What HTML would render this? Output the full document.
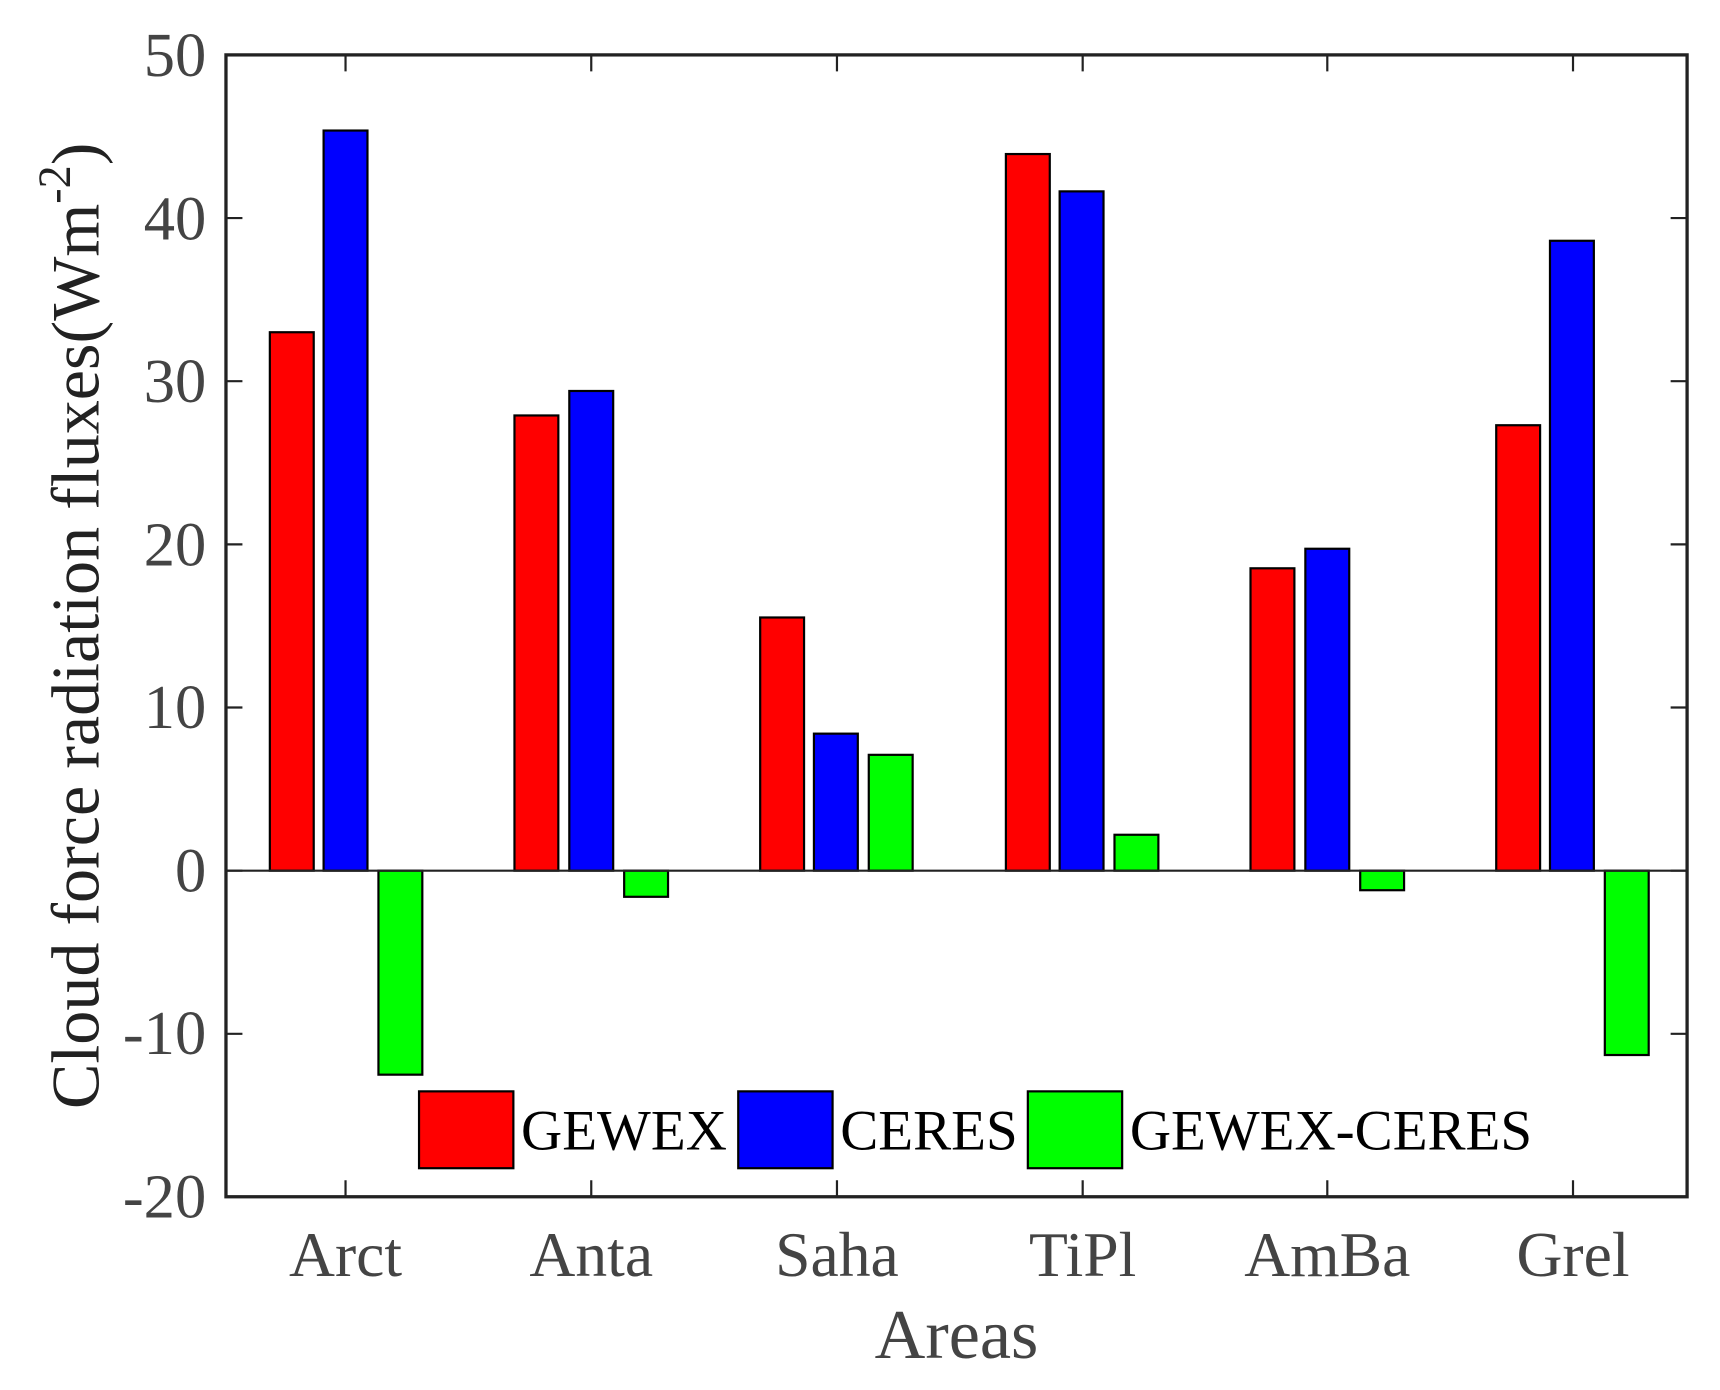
<!DOCTYPE html>
<html><head><style>html,body{margin:0;padding:0;background:#fff}svg{display:block}</style></head>
<body>
<svg width="1720" height="1390" viewBox="0 0 1568 1266" preserveAspectRatio="none" xmlns="http://www.w3.org/2000/svg" font-family="Liberation Serif, serif">
<rect width="1568" height="1266" fill="#fff"/>
<g stroke="#000" stroke-width="2">
<rect x="246" y="302.6" width="40" height="490.4" fill="#f00"/>
<rect x="295" y="118.9" width="40" height="674.1" fill="#00f"/>
<rect x="345" y="793" width="40" height="185.8" fill="#0f0"/>
<rect x="469" y="378.4" width="40" height="414.6" fill="#f00"/>
<rect x="519" y="356.1" width="40" height="436.9" fill="#00f"/>
<rect x="569" y="793" width="40" height="23.8" fill="#0f0"/>
<rect x="693" y="562.4" width="40" height="230.6" fill="#f00"/>
<rect x="742" y="668.2" width="40" height="124.8" fill="#00f"/>
<rect x="792" y="687.5" width="40" height="105.5" fill="#0f0"/>
<rect x="917" y="140.3" width="40" height="652.7" fill="#f00"/>
<rect x="966" y="174.3" width="40" height="618.7" fill="#00f"/>
<rect x="1016" y="760.3" width="40" height="32.7" fill="#0f0"/>
<rect x="1140" y="517.6" width="40" height="275.4" fill="#f00"/>
<rect x="1190" y="499.8" width="40" height="293.2" fill="#00f"/>
<rect x="1240" y="793" width="40" height="17.8" fill="#0f0"/>
<rect x="1364" y="387.3" width="40" height="405.7" fill="#f00"/>
<rect x="1413" y="219.3" width="40" height="573.7" fill="#00f"/>
<rect x="1463" y="793" width="40" height="167.9" fill="#0f0"/>
</g>
<line x1="206" y1="793" x2="1538" y2="793" stroke="#222" stroke-width="2"/>
<rect x="206" y="50" width="1332" height="1040" fill="none" stroke="#222" stroke-width="3"/>
<g stroke="#222" stroke-width="2">
<path d="M206 50h15M206 198.6h15M206 347.2h15M206 495.8h15M206 644.4h15M206 793h15M206 941.6h15M206 1090h15"/>
<path d="M1538 50h-15M1538 198.6h-15M1538 347.2h-15M1538 495.8h-15M1538 644.4h-15M1538 793h-15M1538 941.6h-15"/>
<path d="M315 50v15M539 50v15M763 50v15M987 50v15M1210 50v15M1434 50v15"/>
<path d="M315 1090v-15M539 1090v-15M763 1090v-15M987 1090v-15M1210 1090v-15M1434 1090v-15"/>
</g>
<g fill="#444" font-size="57" text-anchor="end">
<text x="188" y="69">50</text><text x="188" y="218">40</text><text x="188" y="366">30</text>
<text x="188" y="515">20</text><text x="188" y="663">10</text><text x="188" y="812">0</text>
<text x="188" y="960">-10</text><text x="188" y="1109">-20</text>
</g>
<g fill="#444" font-size="58" text-anchor="middle">
<text x="315" y="1162">Arct</text><text x="539" y="1162">Anta</text><text x="763" y="1162">Saha</text>
<text x="987" y="1162">TiPl</text><text x="1210" y="1162">AmBa</text><text x="1434" y="1162">Grel</text>
<text x="872" y="1237" font-size="64">Areas</text>
</g>
<text transform="translate(90,570) rotate(-90)" text-anchor="middle" font-size="62" fill="#222">Cloud force radiation fluxes(Wm<tspan dy="-26" font-size="42">-2</tspan><tspan dy="26">)</tspan></text>
<g stroke="#000" stroke-width="2">
<rect x="382" y="994" width="86" height="70" fill="#f00"/>
<rect x="673" y="994" width="86" height="70" fill="#00f"/>
<rect x="937" y="994" width="86" height="70" fill="#0f0"/>
</g>
<g font-size="52" fill="#000">
<text x="475" y="1047">GEWEX</text>
<text x="766" y="1047">CERES</text>
<text x="1030" y="1047">GEWEX-CERES</text>
</g>
</svg>
</body></html>
